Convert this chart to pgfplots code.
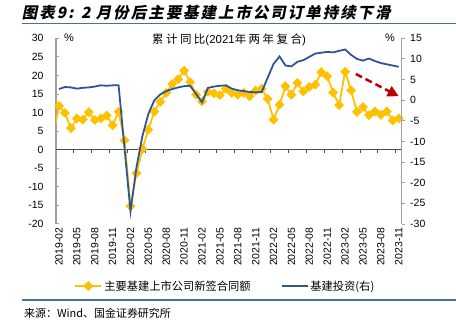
\documentclass[border=0pt]{standalone}
\usepackage{pgfplots}
\pgfplotsset{compat=1.18}
\usetikzlibrary{arrows.meta}
\usepackage{fontspec}
\setmainfont{Liberation Sans}
\newfontfamily\cjk{Noto Sans CJK SC}
\newfontfamily\cjksp{Noto Sans CJK SC}[LetterSpace=22]
\newfontfamily\cjktitle{Noto Sans CJK SC}[FakeSlant=0.2, LetterSpace=13]
\definecolor{cyel}{HTML}{FFC000}
\definecolor{cblue}{HTML}{2F5597}
\definecolor{cline}{HTML}{41719C}
\definecolor{caxis}{HTML}{A0A0A0}
\definecolor{carrow}{HTML}{C00000}
\pgfplotstableread{
m v
-1 3.5
0 11.8
1 9.9
2 5.8
3 8.4
4 8.1
5 10.1
6 8.0
7 8.4
8 9.2
9 6.6
10 10.2
11 2.5
12 -15.2
13 -6.3
14 0.2
15 5.4
16 10.3
17 12.9
18 15.3
19 17.7
20 19.0
21 21.3
22 18.2
23 14.8
24 13.0
25 15.6
26 15.2
27 14.7
28 16.4
29 15.3
30 14.8
31 15.3
32 14.4
33 15.9
34 16.4
35 13.7
36 8.1
37 12.1
38 17.1
39 14.8
40 18.0
41 15.7
42 16.9
43 17.5
44 20.9
45 19.8
46 15.4
47 12.0
48 21.0
49 16.0
50 10.2
51 11.5
52 9.3
53 10.3
54 9.4
55 10.3
56 7.9
57 8.4
}\contracts
\pgfplotstableread{
m v
0 2.7
1 3.2
2 3.1
3 2.8
4 3.0
5 3.1
6 3.3
7 3.6
8 3.5
9 3.6
10 3.6
12 -26.9
13 -16.3
14 -8.7
15 -3.3
16 0.0
17 1.4
18 2.2
19 2.7
20 3.1
21 3.4
22 3.5
24 -0.5
25 3.0
26 3.3
27 3.5
28 3.6
29 2.8
30 2.4
31 2.2
32 2.0
33 1.9
34 2.0
36 8.8
37 10.6
38 8.4
39 8.2
40 9.3
41 9.7
42 10.5
43 11.3
44 11.5
45 11.7
46 11.6
48 12.3
49 11.0
50 10.0
51 9.6
52 10.1
53 9.5
54 9.0
55 8.7
56 8.4
57 8.1
}\invest
\pgfplotsset{
  base/.style={
    at={(56bp,102bp)}, anchor=south west, scale only axis,
    width=345.7bp, height=185.7bp,
    xmin=-0.5, xmax=57.5,
    /pgf/number format/assume math mode=true,
    tick label style={font=\fontsize{10.5}{12}\selectfont},
    major tick length=3bp,
  }
}
\begin{document}
\begin{tikzpicture}
\useasboundingbox (0,0) rectangle (456bp,326bp);
\node[anchor=west, inner sep=0] at (21.7bp,313.3bp) {\fontsize{15.5}{18}\cjktitle\bfseries 图表9: 2 月份后主要基建上市公司订单持续下滑};
\draw[cline, line width=1.3bp] (21.7bp,302.7bp) -- (456bp,302.7bp);
\begin{axis}[base,
  ymin=-20, ymax=30,
  axis x line*=bottom, axis y line*=left,
  x axis line style={draw=none},
  y axis line style={caxis, line width=1.5bp, -},
  xtick={0,3,...,57},
  xticklabels={2019-02,2019-05,2019-08,2019-11,2020-02,2020-05,2020-08,2020-11,2021-02,2021-05,2021-08,2021-11,2022-02,2022-05,2022-08,2022-11,2023-02,2023-05,2023-08,2023-11},
  xtick style={draw=none},
  xticklabel style={rotate=90, anchor=east},
  ytick={-20,-15,...,30},
  ytick style={caxis, line width=1bp},
  tick align=inside,
  yticklabel style={xshift=-9bp},
]
\draw[black!70, line width=0.9bp] (axis cs:-0.5,0) -- (axis cs:57.5,0);
\pgfplotsinvokeforeach{2.5,5.5,...,56.5}{\draw[black!70, line width=0.9bp] (axis cs:#1,0) -- ([yshift=-3.5bp]axis cs:#1,0);}
\addplot[cyel, line width=1.8bp, mark=square*, mark size=2.6bp, mark options={rotate=45, solid, fill=cyel, draw=cyel}] table[x=m, y=v] {\contracts};
\draw[carrow, line width=2.5bp, dash pattern=on 7bp off 4bp, -{Triangle[length=11bp, width=11bp]}] (axis cs:49.8,20.4) -- (axis cs:57.0,14.4);
\end{axis}
\begin{axis}[base,
  ymin=-30, ymax=15,
  axis x line=none, axis y line*=right,
  y axis line style={caxis, line width=1.5bp, -},
  ytick={-30,-25,...,15},
  ytick style={caxis, line width=1bp},
  tick align=outside,
  yticklabel style={xshift=2bp},
  legend style={at={(0.49,-0.334)}, anchor=center, draw=none, fill=none,
    font=\fontsize{11.3}{13}\cjk, legend columns=2,
    /tikz/every even column/.append style={column sep=28bp}},
  legend image code/.code={\draw[mark repeat=2,mark phase=2,#1] plot coordinates {(0bp,0bp) (13bp,0bp) (26bp,0bp)};},
]
\addlegendimage{cyel, line width=1.8bp, mark=square*, mark size=2.6bp, mark options={rotate=45, solid, fill=cyel, draw=cyel}}
\addlegendentry{主要基建上市公司新签合同额}
\addplot[cblue, line width=1.8bp] table[x=m, y=v] {\invest};
\addlegendentry{基建投资(右)}
\end{axis}
\node at (229bp,286bp) {\fontsize{11.5}{13}\selectfont{\cjksp 累计同比}(2021{\cjksp 年两年复合})};
\node at (69bp,288bp) {\fontsize{11}{13}\selectfont\%};
\node at (390bp,288bp) {\fontsize{11}{13}\selectfont\%};
\draw[cline, line width=1.3bp] (21.7bp,26bp) -- (456bp,26bp);
\node[anchor=west, inner sep=0] at (24bp,13bp) {\fontsize{11}{13}\cjk 来源：Wind、国金证券研究所};
\end{tikzpicture}
\end{document}
